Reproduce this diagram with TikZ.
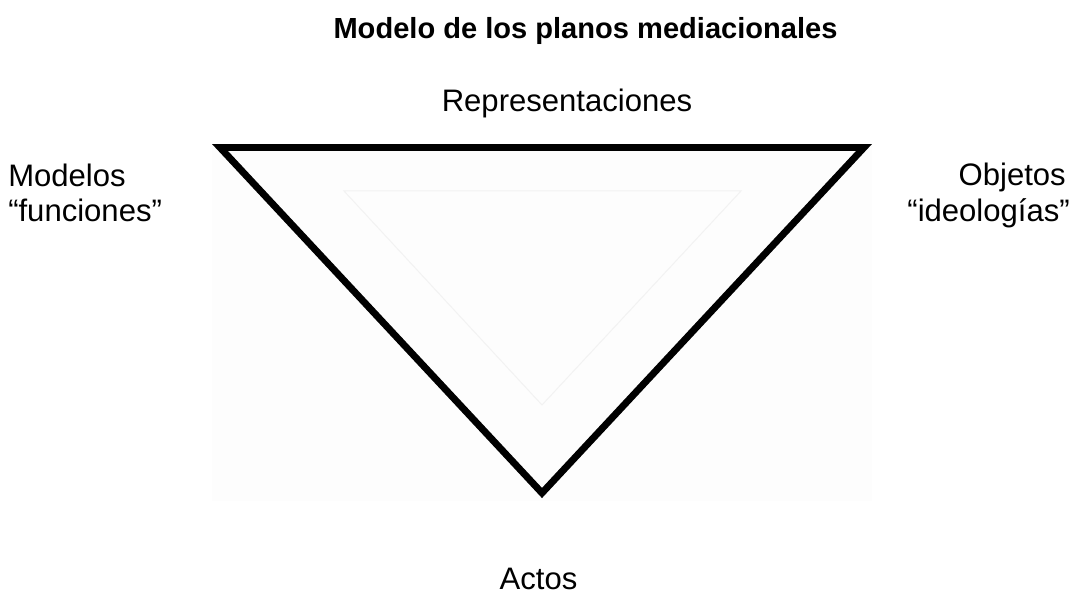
\documentclass[tikz,border=0pt]{standalone}
\usepackage{fontspec}
\setmainfont{Liberation Sans}
\begin{document}
\begin{tikzpicture}[x=0.75pt,y=-0.75pt,
  lbl/.style={inner sep=0pt,font=\fontsize{23.3}{27}\selectfont},
  ttl/.style={inner sep=0pt,font=\fontsize{21.8}{26}\selectfont\bfseries},
  tri/.style={line width=5.2pt,line join=miter},
  faint/.style={draw=black!5,line width=0.75pt}]
\useasboundingbox (0,0) rectangle (1072,595);
\fill[black!0.7] (212,144) rectangle (872,501);
% inner faint triangle
\coordinate (ia) at (344,191);
\coordinate (ib) at (741,191);
\coordinate (ic) at (542,405);
\draw[faint] (ia) -- (ib) -- (ic) -- cycle;
% main triangle
\coordinate (ta) at (220,147.5);
\coordinate (tb) at (864,147.5);
\coordinate (tc) at (542,493);
\draw[tri] (ta) -- (tb) -- (tc) -- cycle;
% texts
\node[ttl,anchor=base] (title) at (585.5,39) {Modelo de los planos mediacionales};
\node[lbl,anchor=base] (rep) at (567,112) {Representaciones};
\node[lbl,anchor=base west] (mod) at (8,187) {Modelos};
\node[lbl,anchor=base west] (fun) at (8,222) {“funciones”};
\node[lbl,anchor=base east] (obj) at (1066,186) {Objetos};
\node[lbl,anchor=base east] (ide) at (1070,222) {“ideologías”};
\node[lbl,anchor=base] (act) at (538.5,589) {Actos};
\end{tikzpicture}
\end{document}
